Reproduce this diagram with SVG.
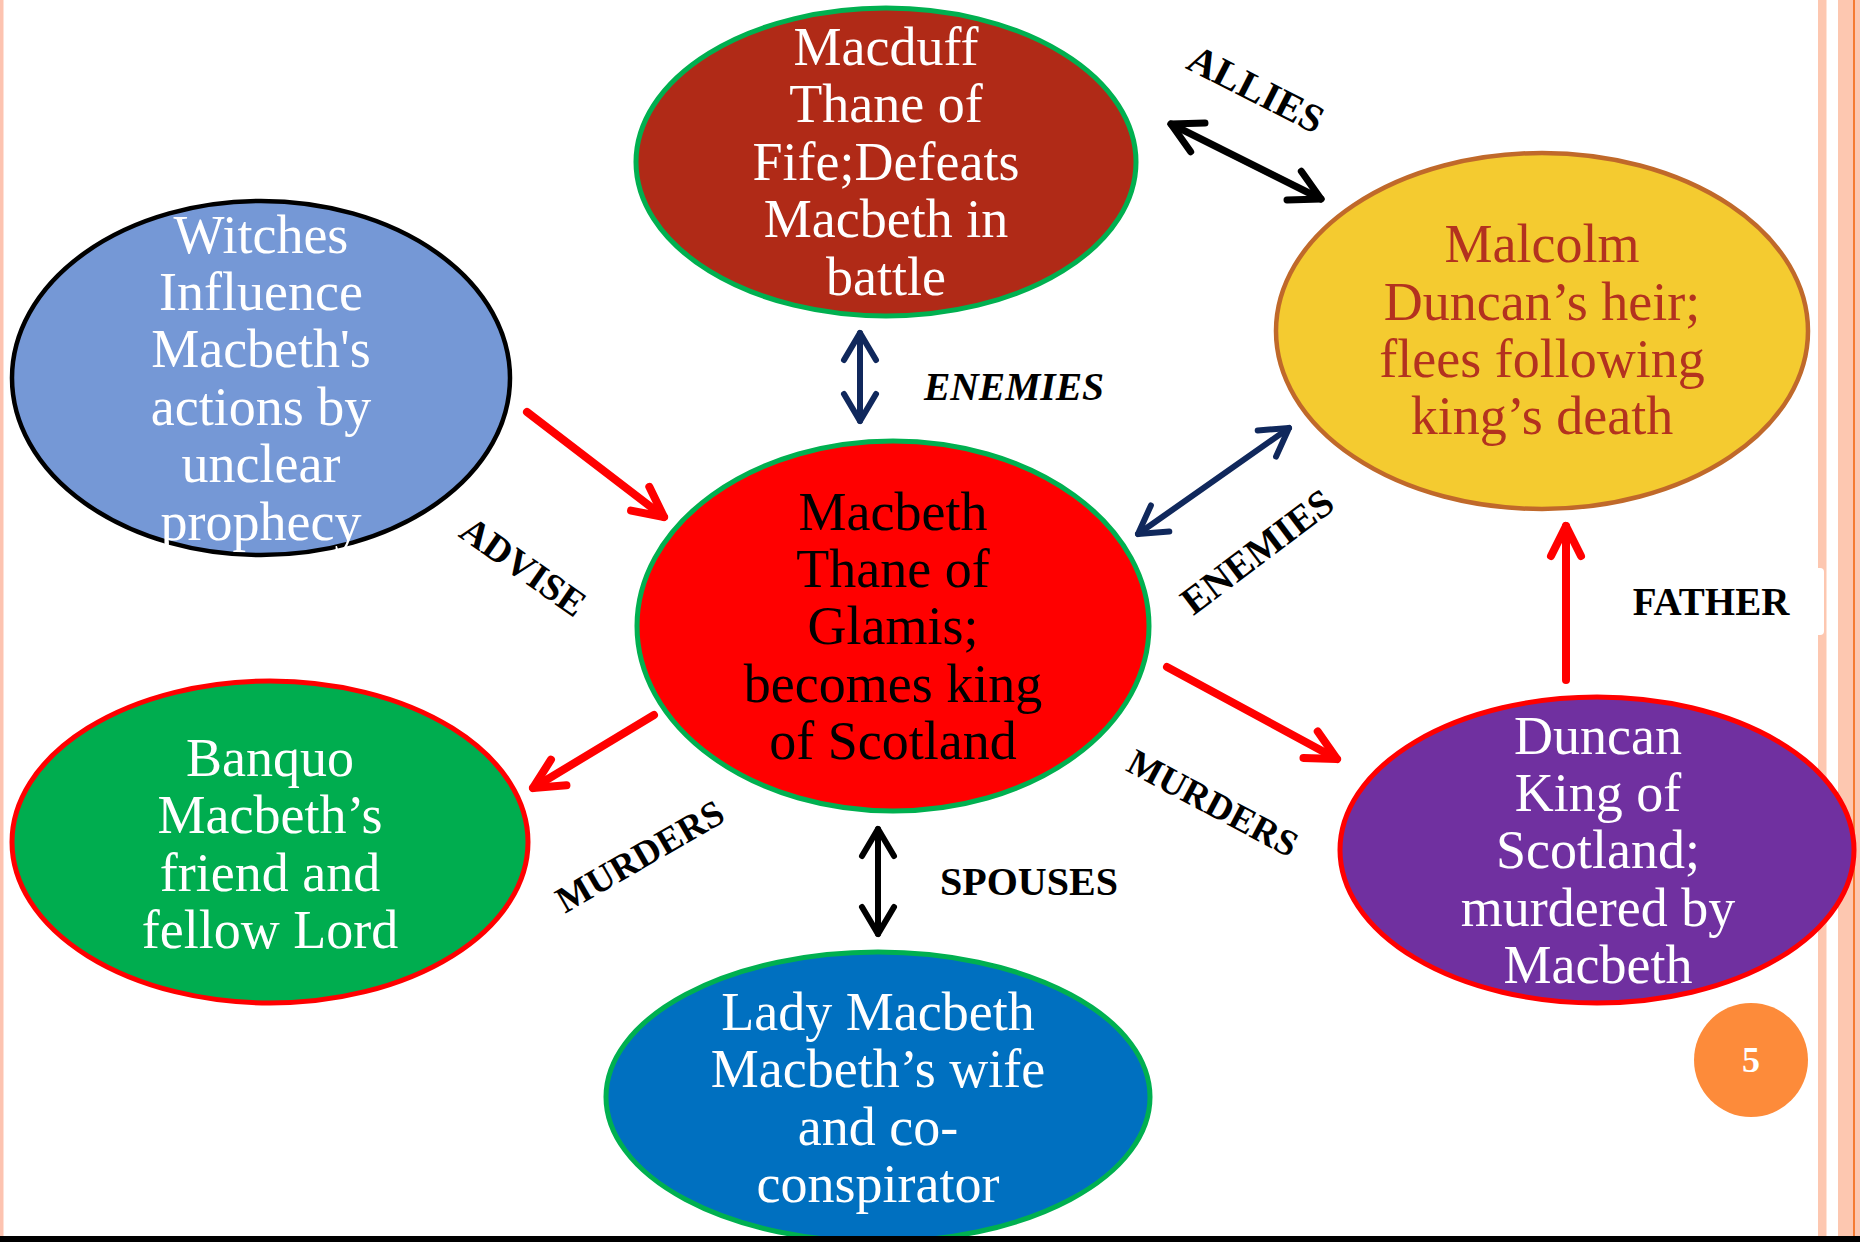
<svg xmlns="http://www.w3.org/2000/svg" width="1860" height="1242" viewBox="0 0 1860 1242">
<style>
.node-text{font-family:"Liberation Serif","Times New Roman",serif;font-size:54px;text-anchor:middle}
.w{fill:#ffffff}
.lbl{font-family:"Liberation Serif","Times New Roman",serif;font-weight:bold;fill:#000000;text-anchor:middle}
.conn{fill:none;stroke-linecap:round}
.red{stroke:#ff0000;stroke-width:8}
.navy{stroke:#10285c;stroke-width:6}
.blk{stroke:#000000;stroke-width:6}
.blk7{stroke:#000000;stroke-width:7}
</style>
<defs>
<marker id="mRed" markerUnits="userSpaceOnUse" markerWidth="80" markerHeight="80" refX="0" refY="0" orient="auto-start-reverse" overflow="visible">
<path d="M -30,-15 L 0,0 L -30,15" fill="none" stroke="#ff0000" stroke-width="8" stroke-linecap="round" stroke-linejoin="round"/>
</marker>
<marker id="mNavy" markerUnits="userSpaceOnUse" markerWidth="80" markerHeight="80" refX="0" refY="0" orient="auto-start-reverse" overflow="visible">
<path d="M -27,-16 L 0,0 L -27,16" fill="none" stroke="#10285c" stroke-width="6" stroke-linecap="round" stroke-linejoin="round"/>
</marker>
<marker id="mBlk" markerUnits="userSpaceOnUse" markerWidth="80" markerHeight="80" refX="0" refY="0" orient="auto-start-reverse" overflow="visible">
<path d="M -27,-16 L 0,0 L -27,16" fill="none" stroke="#000000" stroke-width="6" stroke-linecap="round" stroke-linejoin="round"/>
</marker>
<marker id="mBlk7" markerUnits="userSpaceOnUse" markerWidth="80" markerHeight="80" refX="0" refY="0" orient="auto-start-reverse" overflow="visible">
<path d="M -30,-16 L 0,0 L -30,16" fill="none" stroke="#000000" stroke-width="7" stroke-linecap="round" stroke-linejoin="round"/>
</marker>
</defs>
<rect x="0" y="0" width="1860" height="1242" fill="#ffffff"/>
<g id="frame">
<rect x="0" y="0" width="3.5" height="1242" fill="#fdc3b0"/>
<rect x="1818" y="0" width="8.5" height="1242" fill="#fdc7b0"/>
<rect x="1838" y="0" width="22" height="1242" fill="#fdc7b0"/>
<rect x="1853" y="0" width="2" height="1242" fill="#f57b33"/>
</g>
<g id="connectors">
<line class="conn navy" x1="860" y1="333" x2="860" y2="421" marker-start="url(#mNavy)" marker-end="url(#mNavy)"/>
<line class="conn blk" x1="878" y1="829" x2="878" y2="934" marker-start="url(#mBlk)" marker-end="url(#mBlk)"/>
<line class="conn blk7" x1="1171" y1="124" x2="1321" y2="199" marker-start="url(#mBlk7)" marker-end="url(#mBlk7)"/>
<line class="conn navy" x1="1138" y1="534" x2="1289" y2="428" marker-start="url(#mNavy)" marker-end="url(#mNavy)"/>
<line class="conn red" x1="527" y1="412" x2="664" y2="517" marker-end="url(#mRed)"/>
<line class="conn red" x1="654" y1="715" x2="533" y2="788" marker-end="url(#mRed)"/>
<line class="conn red" x1="1167" y1="667" x2="1337" y2="759" marker-end="url(#mRed)"/>
<line class="conn red" x1="1566" y1="680" x2="1566" y2="526" marker-end="url(#mRed)"/>
</g>
<g id="labels">
<text class="lbl" font-size="40" transform="translate(1250,101) rotate(27)">ALLIES</text>
<text class="lbl" font-size="39.5" font-style="italic" x="1014" y="400">ENEMIES</text>
<text class="lbl" font-size="39" transform="translate(1265,562) rotate(-37)">ENEMIES</text>
<text class="lbl" font-size="38" transform="translate(516,577) rotate(35)">ADVISE</text>
<text class="lbl" font-size="37" transform="translate(1207,814) rotate(28)">MURDERS</text>
<text class="lbl" font-size="37" transform="translate(646,867) rotate(-30)">MURDERS</text>
<text class="lbl" font-size="40" x="1029" y="895">SPOUSES</text>
<g id="father-label">
<rect x="1590" y="568" width="234" height="67" rx="4" fill="#ffffff"/>
<text class="lbl" font-size="39" x="1711" y="615">FATHER</text>
</g>
</g>
<g id="witches">
<ellipse cx="261" cy="378" rx="249" ry="177" fill="#7598d6" stroke="#000000" stroke-width="4.5"/>
<text class="node-text w"><tspan x="261" y="253">Witches</tspan><tspan x="261" y="310">Influence</tspan><tspan x="261" y="367">Macbeth's</tspan><tspan x="261" y="425">actions by</tspan><tspan x="261" y="482">unclear</tspan><tspan x="261" y="540">prophecy</tspan></text>
</g>
<g id="macduff">
<ellipse cx="886" cy="162" rx="250" ry="154" fill="#b02a17" stroke="#00b050" stroke-width="5"/>
<text class="node-text w"><tspan x="886" y="65">Macduff</tspan><tspan x="886" y="122">Thane of</tspan><tspan x="886" y="180">Fife;Defeats</tspan><tspan x="886" y="237">Macbeth in</tspan><tspan x="886" y="295">battle</tspan></text>
</g>
<g id="malcolm">
<ellipse cx="1542" cy="331" rx="266" ry="178" fill="#f4cb30" stroke="#c0692a" stroke-width="4.5"/>
<text class="node-text" fill="#b3321f"><tspan x="1542" y="262">Malcolm</tspan><tspan x="1542" y="320">Duncan’s heir;</tspan><tspan x="1542" y="377">flees following</tspan><tspan x="1542" y="434">king’s death</tspan></text>
</g>
<g id="macbeth">
<ellipse cx="893" cy="626" rx="256" ry="185" fill="#ff0000" stroke="#00b050" stroke-width="5"/>
<text class="node-text" fill="#000000"><tspan x="893" y="530">Macbeth</tspan><tspan x="893" y="587">Thane of</tspan><tspan x="893" y="644">Glamis;</tspan><tspan x="893" y="702">becomes king</tspan><tspan x="893" y="759">of Scotland</tspan></text>
</g>
<g id="banquo">
<ellipse cx="270" cy="842" rx="258" ry="161" fill="#00ad4f" stroke="#ff0000" stroke-width="5"/>
<text class="node-text w"><tspan x="270" y="776">Banquo</tspan><tspan x="270" y="833">Macbeth’s</tspan><tspan x="270" y="891">friend and</tspan><tspan x="270" y="948">fellow Lord</tspan></text>
</g>
<g id="duncan">
<ellipse cx="1597" cy="850" rx="257" ry="153" fill="#7030a0" stroke="#ff0000" stroke-width="5"/>
<text class="node-text w"><tspan x="1598" y="754">Duncan</tspan><tspan x="1598" y="811">King of</tspan><tspan x="1598" y="868">Scotland;</tspan><tspan x="1598" y="926">murdered by</tspan><tspan x="1598" y="983">Macbeth</tspan></text>
</g>
<g id="lady-macbeth">
<ellipse cx="878" cy="1097" rx="272" ry="145" fill="#0070c0" stroke="#00b050" stroke-width="5"/>
<text class="node-text w"><tspan x="878" y="1030">Lady Macbeth</tspan><tspan x="878" y="1087">Macbeth’s wife</tspan><tspan x="878" y="1145">and co-</tspan><tspan x="878" y="1202">conspirator</tspan></text>
</g>
<g id="page-number">
<circle cx="1751" cy="1060" r="57" fill="#fd8b3a"/>
<text class="lbl" font-size="36" style="fill:#ffffff" x="1751" y="1072">5</text>
</g>
<rect x="0" y="1236" width="1860" height="6" fill="#000000"/>
</svg>
